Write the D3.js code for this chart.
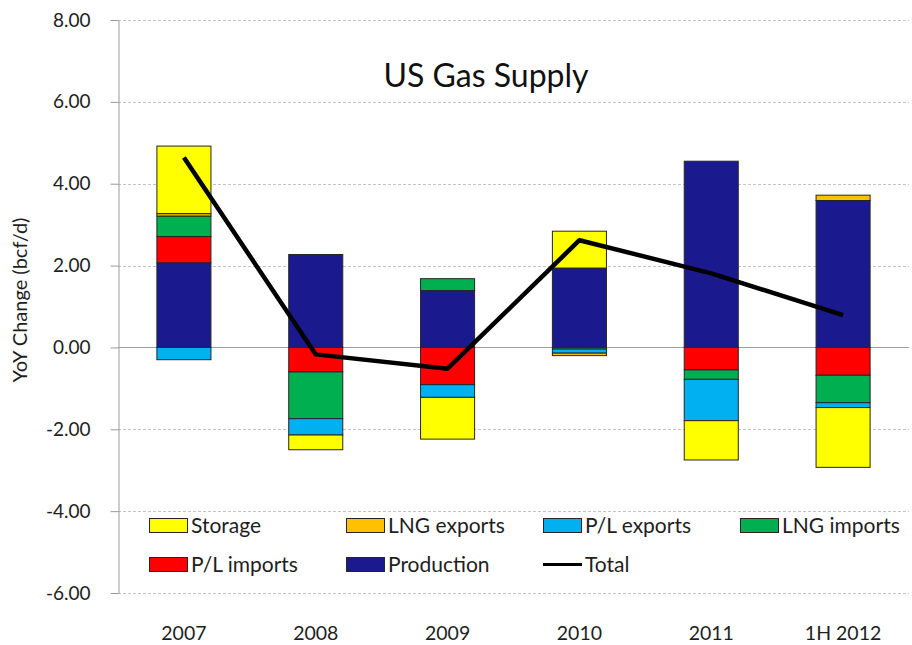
<!DOCTYPE html>
<html>
<head>
<meta charset="utf-8">
<script src="https://cdn.jsdelivr.net/npm/d3@7"></script>
<style>
  body { margin: 0; background: #fff; }
  svg { display: block; font-family: Lato, 'Open Sans', sans-serif; }
</style>
</head>
<body>
<svg id="chart"></svg>
<script>
const categories = ['2007', '2008', '2009', '2010', '2011', '1H 2012'];
const production = [2.07, 2.27, 1.39, 1.94, 4.55, 3.59];
const plImports = [0.64, -0.6, -0.91, 0, -0.55, -0.68];
const lngImports = [0.5, -1.14, 0.29, -0.04, -0.23, -0.67];
const plExports = [-0.3, -0.4, -0.31, -0.1, -1.01, -0.12];
const lngExports = [0.06, 0, 0, -0.06, 0, 0.13];
const storage = [1.65, -0.36, -1.02, 0.9, -0.96, -1.46];
const total = [4.64, -0.17, -0.52, 2.62, 1.81, 0.79];
const yTicks = [-6, -4, -2, 0, 2, 4, 6, 8];

// stacking order as drawn, legend order is reversed
const series = [
  { key: 'Production', values: production, color: '#1a1a8e' },
  { key: 'P/L imports', values: plImports, color: '#ff0000' },
  { key: 'LNG imports', values: lngImports, color: '#00b050' },
  { key: 'P/L exports', values: plExports, color: '#00b0f0' },
  { key: 'LNG exports', values: lngExports, color: '#ffc000' },
  { key: 'Storage', values: storage, color: '#ffff00' },
];

const width = 912;
const height = 645;
const plotLeft = 118;
const plotRight = 909;
const plotTop = 20;
const plotBottom = 593;

const svg = d3.select('#chart').attr('width', width).attr('height', height);

const rows = categories.map((c, i) => {
  const row = { category: c };
  series.forEach((s) => (row[s.key] = s.values[i]));
  return row;
});

const stack = d3
  .stack()
  .keys(series.map((s) => s.key))
  .offset(d3.stackOffsetDiverging);
const stacked = stack(rows);

// X
const xScale = d3
  .scaleBand()
  .domain(categories)
  .range([plotLeft, plotRight])
  .paddingInner(0.59)
  .paddingOuter(0.295);
const xCenter = (c) => xScale(c) + xScale.bandwidth() / 2;

// Y
const yScale = d3.scaleLinear().domain([-6, 8]).range([plotBottom, plotTop]);

// Grid
svg
  .append('g')
  .selectAll('line')
  .data(yTicks.filter((d) => d !== 0))
  .join('line')
  .attr('x1', plotLeft)
  .attr('x2', plotRight)
  .attr('y1', (d) => Math.round(yScale(d)) + 0.5)
  .attr('y2', (d) => Math.round(yScale(d)) + 0.5)
  .attr('stroke', '#c4c4c4')
  .attr('stroke-dasharray', '3,2');

const yAxis = svg
  .append('g')
  .attr('transform', `translate(${plotLeft + 0.5},0)`)
  .call(
    d3
      .axisLeft(yScale)
      .tickValues(yTicks)
      .tickFormat((d) => d.toFixed(2))
      .tickSize(8)
      .tickPadding(20)
      .tickSizeOuter(0)
  );
yAxis.select('.domain').attr('stroke', '#9a9a9a');
yAxis.selectAll('.tick line').attr('stroke', '#9a9a9a');
yAxis
  .selectAll('text')
  .attr('font-size', 19)
  .attr('fill', '#1e1e1e')
  .attr('font-family', 'Lato, sans-serif');

// zero line
svg
  .append('line')
  .attr('x1', plotLeft)
  .attr('x2', plotRight)
  .attr('y1', Math.round(yScale(0)) + 0.5)
  .attr('y2', Math.round(yScale(0)) + 0.5)
  .attr('stroke', '#a0a0a0');

// Bars
const colorOf = Object.fromEntries(series.map((s) => [s.key, s.color]));
svg
  .append('g')
  .selectAll('g')
  .data(stacked)
  .join('g')
  .attr('fill', (d) => colorOf[d.key])
  .selectAll('rect')
  .data((d) => d.filter((p) => p[1] !== p[0]))
  .join('rect')
  .attr('x', (d) => xScale(d.data.category))
  .attr('width', xScale.bandwidth())
  .attr('y', (d) => yScale(Math.max(d[0], d[1])))
  .attr('height', (d) => Math.abs(yScale(d[0]) - yScale(d[1])))
  .attr('stroke', '#262626')
  .attr('stroke-width', 1);

// Total
const line = d3
  .line()
  .x((d, i) => xCenter(categories[i]))
  .y((d) => yScale(d));
svg
  .append('path')
  .datum(total)
  .attr('fill', 'none')
  .attr('stroke', '#000')
  .attr('stroke-width', 4.5)
  .attr('stroke-linejoin', 'round')
  .attr('d', line);

// Category labels
svg
  .append('g')
  .selectAll('text')
  .data(categories)
  .join('text')
  .attr('x', (d) => xCenter(d))
  .attr('y', 640)
  .attr('text-anchor', 'middle')
  .attr('font-size', 19.5)
  .attr('fill', '#1e1e1e')
  .text((d) => d);

// Title
svg
  .append('text')
  .attr('x', 486)
  .attr('y', 87)
  .attr('text-anchor', 'middle')
  .attr('font-size', 32)
  .attr('fill', '#111')
  .text('US Gas Supply');

// Y label
svg
  .append('text')
  .attr('transform', 'translate(27,300) rotate(-90)')
  .attr('text-anchor', 'middle')
  .attr('font-size', 20)
  .attr('fill', '#1e1e1e')
  .text('YoY Change (bcf/d)');

// Legend
const legendItems = series
  .slice()
  .reverse()
  .map((s) => ({ label: s.key, color: s.color, type: 'box' }))
  .concat([{ label: 'Total', color: '#000', type: 'line' }]);
const legend = svg
  .append('g')
  .selectAll('g')
  .data(legendItems)
  .join('g')
  .attr(
    'transform',
    (d, i) => `translate(${149 + (i % 4) * 197},${i < 4 ? 525 : 564})`
  );
legend
  .filter((d) => d.type === 'box')
  .append('rect')
  .attr('x', 0.5)
  .attr('y', -6.5)
  .attr('width', 38)
  .attr('height', 14)
  .attr('fill', (d) => d.color)
  .attr('stroke', '#262626');
legend
  .filter((d) => d.type === 'line')
  .append('line')
  .attr('x1', 0)
  .attr('x2', 39)
  .attr('y1', 0.5)
  .attr('y2', 0.5)
  .attr('stroke', '#000')
  .attr('stroke-width', 3);
legend
  .append('text')
  .attr('x', 42)
  .attr('y', 7.5)
  .attr('font-size', 21)
  .attr('fill', '#1e1e1e')
  .text((d) => d.label);
</script>
</body>
</html>
